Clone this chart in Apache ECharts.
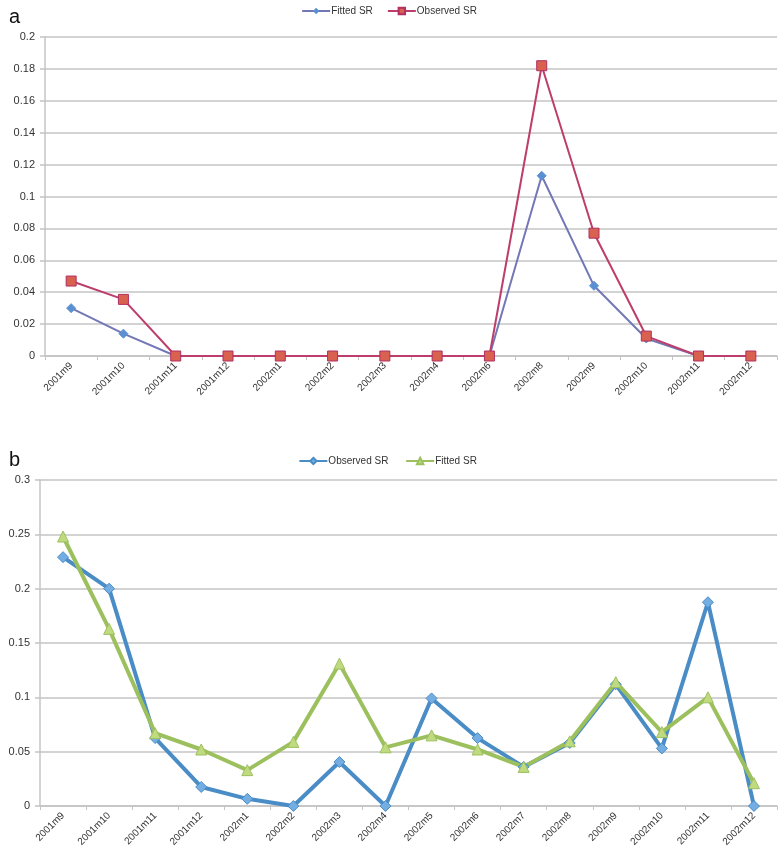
<!DOCTYPE html>
<html>
<head>
<meta charset="utf-8">
<script src="https://cdn.jsdelivr.net/npm/echarts@6/dist/echarts.min.js"></script>
<style>
  html, body { margin: 0; padding: 0; background: #fff; }
  #chart { width: 778px; height: 859px; }
</style>
</head>
<body>
<div id="chart"></div>
<script>
// panel a
const monthsA = ['2001m9', '2001m10', '2001m11', '2001m12', '2002m1', '2002m2', '2002m3',
  '2002m4', '2002m6', '2002m8', '2002m9', '2002m10', '2002m11', '2002m12'];
const fittedA = [0.030, 0.014, 0, 0, 0, 0, 0, 0, 0, 0.113, 0.044, 0.011, 0, 0];
const observedA = [0.047, 0.0355, 0, 0, 0, 0, 0, 0, 0, 0.182, 0.077, 0.0125, 0, 0];

// panel b
const monthsB = ['2001m9', '2001m10', '2001m11', '2001m12', '2002m1', '2002m2', '2002m3', '2002m4',
  '2002m5', '2002m6', '2002m7', '2002m8', '2002m9', '2002m10', '2002m11', '2002m12'];
const observedB = [0.229, 0.2, 0.0625, 0.0175, 0.0066, 0, 0.0405, 0, 0.099, 0.0625, 0.036, 0.058,
  0.112, 0.053, 0.1875, 0];
const fittedB = [0.248, 0.163, 0.067, 0.052, 0.033, 0.059, 0.131, 0.054, 0.065, 0.052, 0.036, 0.0595,
  0.114, 0.068, 0.100, 0.021];

const FONT = '"Liberation Sans", Arial, sans-serif';
const gridLine = { show: true, lineStyle: { color: '#c4c4c4', width: 1.5 } };
const axisLine = { show: true, lineStyle: { color: '#c4c4c4', width: 1.5 } };

const chart = echarts.init(document.getElementById('chart'));

function catAxis(idx, data) {
  return {
    type: 'category',
    gridIndex: idx,
    data: data,
    boundaryGap: true,
    axisLine: axisLine,
    axisTick: { show: true, length: 4, lineStyle: { color: '#c4c4c4' } },
    axisLabel: { rotate: 45, fontSize: 10, color: '#333', fontFamily: FONT, margin: 8, interval: 0 },
    splitLine: { show: false }
  };
}

function valAxis(idx, max, interval) {
  return {
    type: 'value',
    gridIndex: idx,
    min: 0,
    max: max,
    interval: interval,
    axisLine: axisLine,
    axisTick: { show: true, length: 5, lineStyle: { color: '#c4c4c4', width: 1.5 } },
    axisLabel: { fontSize: 11, color: '#333', fontFamily: FONT, margin: 10 },
    splitLine: gridLine
  };
}

chart.setOption({
  animation: false,
  textStyle: { fontFamily: FONT },
  title: [
    { text: 'a', left: 4, top: 2, textStyle: { fontSize: 20, fontWeight: 'normal', color: '#111', fontFamily: FONT } },
    { text: 'b', left: 4, top: 445, textStyle: { fontSize: 20, fontWeight: 'normal', color: '#111', fontFamily: FONT } }
  ],
  legend: [
    {
      data: ['Fitted SR', 'Observed SR'],
      top: 1, left: 'center',
      itemWidth: 28, itemHeight: 8, itemGap: 14,
      textStyle: { fontSize: 10, color: '#333', fontFamily: FONT, padding: [0, 0, 0, -4] }
    },
    {
      data: ['Observed SR ', 'Fitted SR '],
      top: 451, left: 'center',
      itemWidth: 28, itemHeight: 8, itemGap: 14,
      textStyle: { fontSize: 10, color: '#333', fontFamily: FONT, padding: [0, 0, 0, -4] }
    }
  ],
  grid: [
    { left: 45, right: 1, top: 37, height: 319 },
    { left: 40, right: 1, top: 480, height: 326 }
  ],
  xAxis: [catAxis(0, monthsA), catAxis(1, monthsB)],
  yAxis: [valAxis(0, 0.2, 0.02), valAxis(1, 0.3, 0.05)],
  series: [
    {
      name: 'Fitted SR', type: 'line', xAxisIndex: 0, yAxisIndex: 0,
      data: fittedA,
      symbol: 'diamond', symbolSize: 9,
      lineStyle: { color: '#7377b6', width: 2 },
      itemStyle: { color: '#5a8fd2', borderColor: '#5a8fd2' }
    },
    {
      name: 'Observed SR', type: 'line', xAxisIndex: 0, yAxisIndex: 0,
      data: observedA,
      symbol: 'rect', symbolSize: 10,
      lineStyle: { color: '#bd3d6c', width: 2 },
      itemStyle: { color: '#d9614f', borderColor: '#b23063', borderWidth: 1 }
    },
    {
      name: 'Observed SR ', type: 'line', xAxisIndex: 1, yAxisIndex: 1,
      data: observedB,
      symbol: 'diamond', symbolSize: 11,
      lineStyle: { color: '#4a8cc6', width: 4 },
      itemStyle: { color: '#74ade2', borderColor: '#4a8cc6', borderWidth: 1 }
    },
    {
      name: 'Fitted SR ', type: 'line', xAxisIndex: 1, yAxisIndex: 1,
      data: fittedB,
      symbol: 'triangle', symbolSize: 11,
      lineStyle: { color: '#9dc05e', width: 4 },
      itemStyle: { color: '#c0da80', borderColor: '#9dc05e', borderWidth: 1 }
    }
  ]
});
</script>
</body>
</html>
